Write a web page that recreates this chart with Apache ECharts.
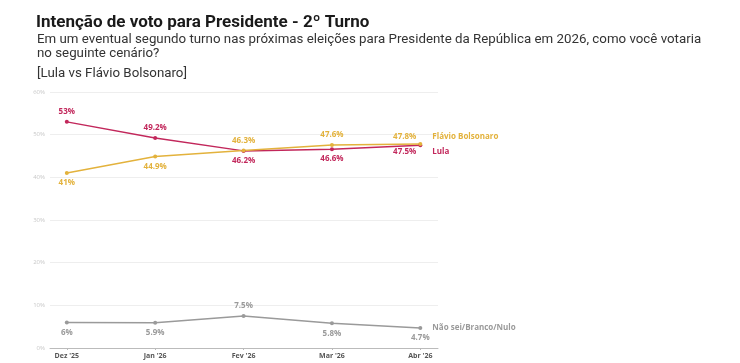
<!DOCTYPE html>
<html><head><meta charset="utf-8">
<script src="https://cdn.jsdelivr.net/npm/echarts@6/dist/echarts.min.js"></script>
<style>html,body{margin:0;padding:0;background:#fff}#c{width:740px;height:363px}</style>
</head><body><div id="c"></div>
<script>
const categories = ["Dez '25", "Jan '26", "Fev '26", "Mar '26", "Abr '26"];
const lula = [53, 49.2, 46.2, 46.6, 47.5];
const flavio = [41, 44.9, 46.3, 47.6, 47.8];
const nulo = [6, 5.9, 7.5, 5.8, 4.7];
const yTicks = [0, 10, 20, 30, 40, 50, 60];
const lulaPos = ['top', 'top', 'bottom', 'bottom', 'lastLula'];
const flavioPos = ['bottom', 'bottom', 'top', 'top', 'lastFlavio'];
const nuloPos = ['bottom', 'bottom', 'top', 'bottom', 'bottom'];

const C_LULA = '#c2275b', C_FLAV = '#e3b23c', C_NULO = '#9a9a9a';
const fmt = v => v + '%';
const catIdx = categories.map((c, i) => i);

function mk(vals, pos, color, name, endOffset) {
  return {
    type: 'line', name: name,
    data: vals.map((v, i) => {
      let p = pos[i];
      let lab = {};
      if (p === 'lastLula') lab = {position: 'left', distance: 2, offset: [0, 6]};
      else if (p === 'lastFlavio') lab = {position: 'left', distance: 2, offset: [0, -7]};
      else lab = {position: p, distance: 4};
      return {value: [i, v], label: lab};
    }),
    symbol: 'circle', symbolSize: 4,
    lineStyle: {color: color, width: 1.5},
    itemStyle: {color: color},
    label: {show: true, formatter: p => fmt(p.value[1]), color: color, fontSize: 8, fontWeight: 'bold', fontFamily: 'Open Sans'},
    endLabel: {show: true, formatter: name, color: color, fontSize: 8, fontWeight: 'bold', fontFamily: 'Open Sans', distance: 12, offset: endOffset},
    animation: false
  };
}

const chart = echarts.init(document.getElementById('c'), null, {renderer: 'canvas'});
chart.setOption({
  backgroundColor: '#fff',
  animation: false,
  title: [
    {text: 'Intenção de voto para Presidente - 2º Turno', left: 31, top: 9, textStyle: {fontFamily: 'Roboto', fontSize: 17, fontWeight: 'bold', color: '#1a1a1a'}},
    {text: 'Em um eventual segundo turno nas próximas eleições para Presidente da República em 2026, como você votaria\nno seguinte cenário?', left: 32, top: 28, textStyle: {fontFamily: 'Roboto', fontSize: 13.3, fontWeight: 'normal', color: '#333', lineHeight: 14}},
    {text: '[Lula vs Flávio Bolsonaro]', left: 32, top: 62, textStyle: {fontFamily: 'Roboto', fontSize: 13.3, fontWeight: 'normal', color: '#333'}}
  ],
  grid: {left: 50, right: 302, top: 92, bottom: 15},
  xAxis: {
    type: 'value', min: -0.19, max: 4.2, interval: 1,
    axisLine: {show: true, lineStyle: {color: '#bbb', width: 1}},
    splitLine: {show: false},
    axisLabel: {formatter: v => categories[Math.round(v)] || '', color: '#555', fontSize: 7, fontFamily: 'Open Sans', fontWeight: 'bold', margin: 4, customValues: catIdx},
    axisTick: {show: true, length: 2, lineStyle: {color: '#bbb'}, customValues: catIdx}
  },
  yAxis: {
    type: 'value', min: 0, max: 60, interval: 10,
    axisLine: {show: false}, axisTick: {show: false},
    splitLine: {lineStyle: {color: '#eeeeee', width: 1}},
    axisLabel: {formatter: v => yTicks.includes(v) ? v + '%' : '', color: '#c8c8c8', fontSize: 6, fontFamily: 'Open Sans', margin: 5}
  },
  series: [
    mk(lula, lulaPos, C_LULA, 'Lula', [0, 6]),
    mk(flavio, flavioPos, C_FLAV, 'Flávio Bolsonaro', [0, -7]),
    mk(nulo, nuloPos, C_NULO, 'Não sei/Branco/Nulo', [0, 0])
  ]
});
</script></body></html>
